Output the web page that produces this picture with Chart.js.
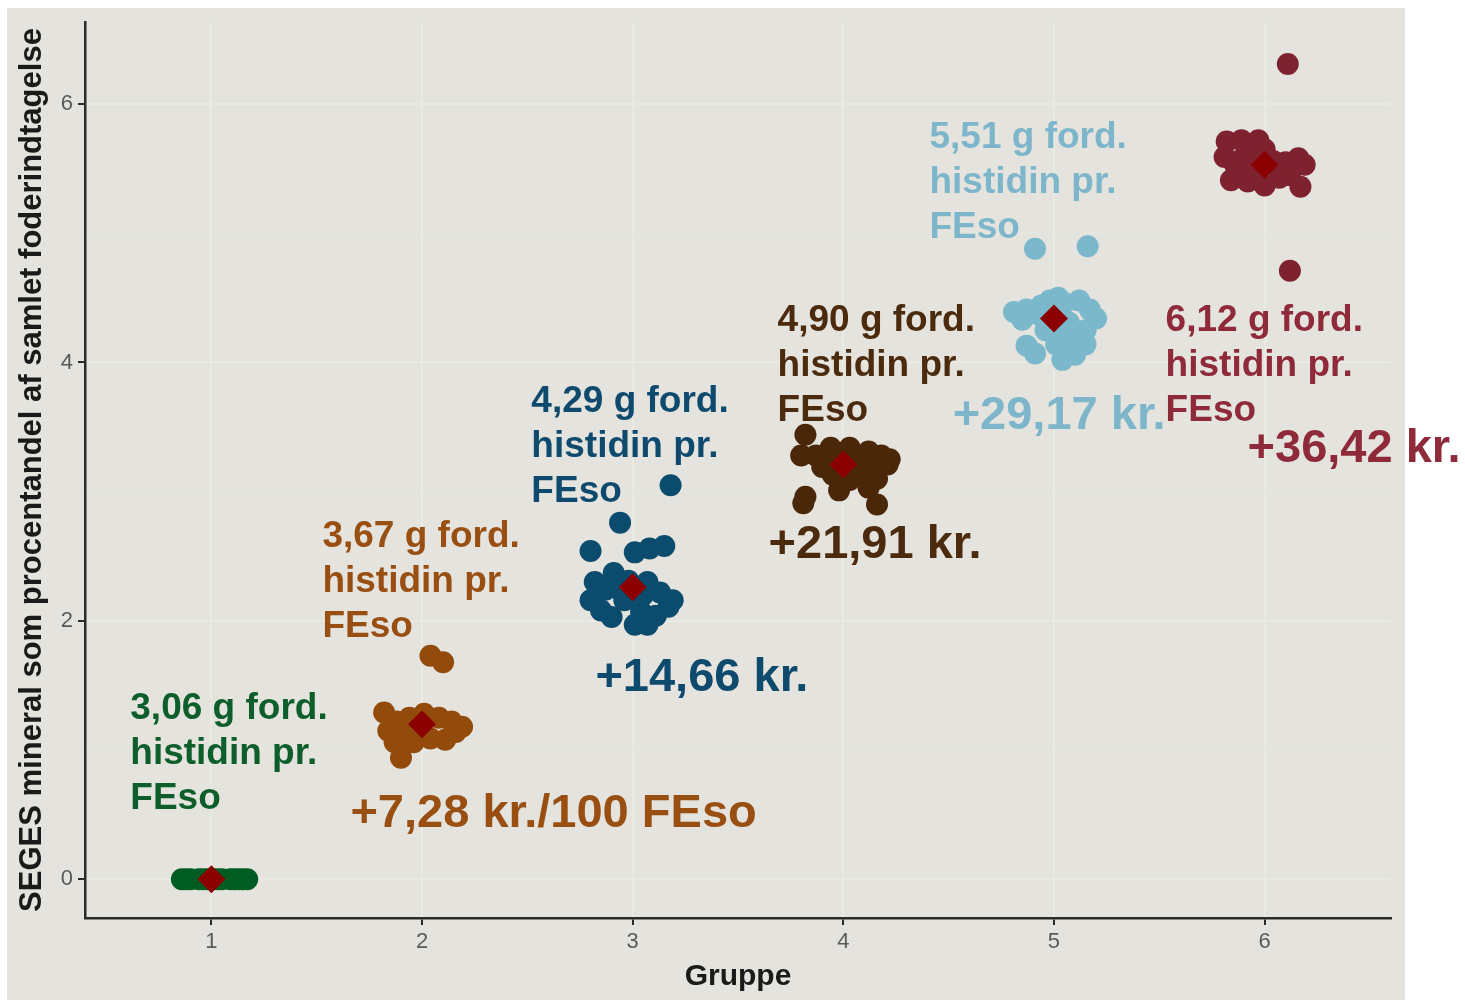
<!DOCTYPE html>
<html>
<head>
<meta charset="utf-8">
<script src="https://cdn.jsdelivr.net/npm/chart.js@4.4.1/dist/chart.umd.min.js"></script>
<style>
  body { margin: 0; background: #ffffff; }
  #panel { position: absolute; left: 7px; top: 8px; width: 1398px; height: 992px; background: #e4e3dd; }
  #wrap { position: absolute; left: 0; top: 0; width: 1465px; height: 1001px; }
</style>
</head>
<body>
<div id="panel"></div>
<div id="wrap"><canvas id="chart" width="1465" height="1001"></canvas></div>
<script>
// groups and colours
const groups = [1, 2, 3, 4, 5, 6];
const groupColors = ['#005c23', '#934b0c', '#0b4b6d', '#4a2708', '#7bb8cc', '#7f2230'];
const textColors = ['#0d5e2b', '#9a4f12', '#0e4a6e', '#4b2a0d', '#7db6cb', '#8e2a3a'];

const g1x = [0.86, 0.88, 0.90, 0.94, 0.96, 0.98, 1.01, 1.03, 1.05, 1.09, 1.11, 1.13, 1.15, 1.17];
const g1y = [0, 0, 0, 0, 0, 0, 0, 0, 0, 0, 0, 0, 0, 0];
const g2x = [2.04, 2.10, 1.82, 1.84, 1.90, 1.87, 1.94, 2.01, 2.08, 2.14, 2.19, 2.11, 2.04, 1.96, 1.92, 1.88, 2.16];
const g2y = [1.73, 1.68, 1.29, 1.15, 0.94, 1.06, 1.25, 1.28, 1.25, 1.22, 1.18, 1.08, 1.09, 1.06, 1.17, 1.22, 1.14];
const g3x = [3.18, 2.94, 2.80, 3.01, 3.08, 3.15, 2.82, 2.87, 2.80, 2.85, 2.90, 2.98, 3.07, 3.13, 3.19, 3.17, 3.04, 3.11, 3.01, 3.07, 2.96, 2.91, 3.05, 2.93];
const g3y = [3.05, 2.76, 2.54, 2.53, 2.56, 2.58, 2.30, 2.24, 2.16, 2.08, 2.03, 2.31, 2.30, 2.22, 2.16, 2.11, 2.07, 2.04, 1.97, 1.97, 2.16, 2.37, 2.20, 2.25];
const g4x = [3.82, 3.80, 3.87, 3.94, 4.03, 4.12, 4.18, 4.21, 4.16, 4.12, 4.16, 4.03, 3.95, 3.90, 3.82, 3.81, 4.08, 3.98, 4.07, 3.96, 4.13, 4.22];
const g4y = [3.44, 3.28, 3.28, 3.34, 3.34, 3.31, 3.28, 3.21, 3.10, 3.03, 2.90, 3.09, 3.13, 3.19, 2.96, 2.91, 3.17, 3.01, 3.28, 3.23, 3.17, 3.25];
const g5x = [4.91, 5.16, 4.81, 4.87, 4.93, 4.98, 5.05, 5.12, 5.17, 5.20, 5.15, 5.09, 5.03, 4.96, 4.87, 4.91, 5.04, 5.10, 5.07, 4.96, 5.01, 5.07, 5.15, 4.85, 5.02, 4.94];
const g5y = [4.88, 4.90, 4.39, 4.41, 4.37, 4.48, 4.46, 4.48, 4.41, 4.34, 4.25, 4.17, 4.23, 4.25, 4.13, 4.07, 4.02, 4.06, 4.31, 4.33, 4.14, 4.10, 4.14, 4.33, 4.50, 4.44];
const g6x = [6.11, 6.12, 5.82, 5.89, 5.97, 5.81, 5.86, 5.84, 5.92, 6.00, 6.04, 6.10, 6.16, 6.19, 6.17, 6.07, 5.89, 5.94, 6.00, 6.12, 5.95];
const g6y = [6.31, 4.71, 5.71, 5.72, 5.72, 5.59, 5.53, 5.41, 5.40, 5.37, 5.56, 5.55, 5.58, 5.53, 5.36, 5.43, 5.57, 5.61, 5.65, 5.45, 5.48];

// group means (red diamonds)
const means = [0, 1.20, 2.26, 3.21, 4.34, 5.53];

// tick labels
const xTicks = [1, 2, 3, 4, 5, 6];
const yTicks = [0, 1, 2, 3, 4, 5, 6];

// annotation texts
const histidinLabels = ['3,06 g ford.', '3,67 g ford.', '4,29 g ford.', '4,90 g ford.', '5,51 g ford.', '6,12 g ford.'];
const costLabels = ['', '+7,28 kr./100 FEso', '+14,66 kr.', '+21,91 kr.', '+29,17 kr.', '+36,42 kr.'];

// where the labels sit, in data units (left edge, first line)
const histidinAt = [[0.615, 1.316], [1.527, 2.648], [2.519, 3.693], [3.688, 4.320], [4.409, 5.737], [5.530, 4.320]];
const costAt = [null, [1.660, 0.504], [2.823, 1.557], [3.645, 2.586], [4.519, 3.585], [5.919, 3.329]];

const xs = [g1x, g2x, g3x, g4x, g5x, g6x];
const ys = [g1y, g2y, g3y, g4y, g5y, g6y];

const datasets = groups.map((g, i) => ({
  label: 'Gruppe ' + g,
  data: xs[i].map((x, j) => ({x: x, y: ys[i][j]})),
  backgroundColor: groupColors[i],
  borderColor: groupColors[i],
  borderWidth: 0,
  pointRadius: 11,
  pointHoverRadius: 11,
  order: 2
}));

datasets.push({
  label: 'Gennemsnit',
  data: groups.map((g, i) => ({x: g, y: means[i]})),
  pointStyle: 'rectRot',
  backgroundColor: '#8b0000',
  borderColor: '#8b0000',
  borderWidth: 0,
  pointRadius: 14,
  pointHoverRadius: 14,
  order: 1
});

const FONT = "'Liberation Sans', Arial, sans-serif";

const labelPlugin = {
  id: 'labels',
  afterDatasetsDraw(chart) {
    const ctx = chart.ctx;
    const sx = chart.scales.x, sy = chart.scales.y;
    ctx.save();
    ctx.textAlign = 'left';
    ctx.textBaseline = 'middle';
    histidinLabels.forEach((t, i) => {
      const px = sx.getPixelForValue(histidinAt[i][0]);
      const py = sy.getPixelForValue(histidinAt[i][1]);
      ctx.fillStyle = textColors[i];
      ctx.font = 'bold 37px ' + FONT;
      [t, 'histidin pr.', 'FEso'].forEach((line, k) => ctx.fillText(line, px, py + k * 45));
    });
    costLabels.forEach((t, i) => {
      if (!t) return;
      ctx.fillStyle = textColors[i];
      ctx.font = 'bold 47px ' + FONT;
      ctx.fillText(t, sx.getPixelForValue(costAt[i][0]), sy.getPixelForValue(costAt[i][1]));
    });
    ctx.restore();
  }
};

const gridColor = '#eaeae5';
const minorGrid = '#e7e7e2';
const axisColor = '#2b2b2b';

new Chart(document.getElementById('chart'), {
  type: 'scatter',
  data: { datasets: datasets },
  plugins: [labelPlugin],
  options: {
    responsive: false,
    animation: false,
    events: [],
    layout: { padding: { left: 0, top: 22, right: 74, bottom: 0 } },
    plugins: { legend: { display: false }, tooltip: { enabled: false } },
    scales: {
      x: {
        type: 'linear',
        min: 0.4,
        max: 6.6,
        afterBuildTicks: (s) => { s.ticks = xTicks.map(v => ({value: v})); },
        afterFit: (s) => { s.height = 83; },
        grid: { color: gridColor, lineWidth: 2, tickColor: axisColor, tickLength: 7, tickWidth: 2 },
        border: { color: axisColor, width: 2.5 },
        ticks: { color: '#5a5a5a', font: { family: FONT, size: 22 }, padding: 4 },
        title: { display: true, text: 'Gruppe', color: '#1a1a1a', font: { family: FONT, size: 30, weight: 'bold' }, padding: { top: 0, bottom: 6 } }
      },
      y: {
        type: 'linear',
        min: -0.30,
        max: 6.635,
        afterBuildTicks: (s) => { s.ticks = yTicks.map(v => ({value: v})); },
        afterFit: (s) => { s.width = 85; },
        grid: {
          color: (c) => (c.tick && c.tick.value % 2 ? minorGrid : gridColor),
          lineWidth: (c) => (c.tick && c.tick.value % 2 ? 1 : 2),
          tickColor: (c) => (c.tick && c.tick.value % 2 ? 'rgba(0,0,0,0)' : axisColor),
          tickLength: 7,
          tickWidth: 2
        },
        border: { color: axisColor, width: 2.5 },
        ticks: {
          color: '#5a5a5a',
          font: { family: FONT, size: 22 },
          padding: 5,
          callback: (v) => (v % 2 === 0 ? String(v) : '')
        },
        title: { display: true, text: 'SEGES mineral som procentandel af samlet foderindtagelse', color: '#1a1a1a', font: { family: FONT, size: 31, weight: 'bold' }, padding: { top: 14, bottom: 0 } }
      }
    }
  }
});
</script>
</body>
</html>
